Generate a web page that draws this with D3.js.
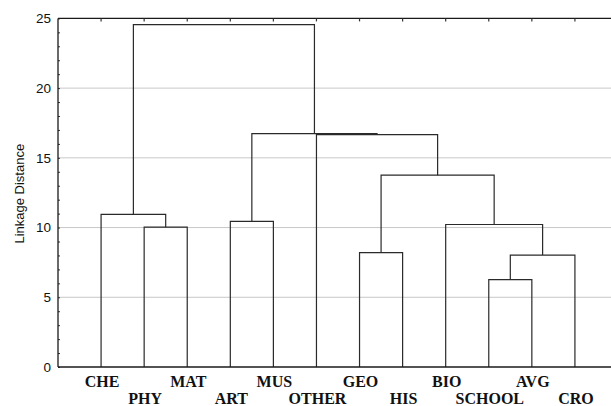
<!DOCTYPE html>
<html>
<head>
<meta charset="utf-8">
<script src="https://cdn.jsdelivr.net/npm/d3@7"></script>
<style>
  body { margin: 0; background: #fff; }
  svg { display: block; }
</style>
</head>
<body>
<div id="chart"></div>
<script>
// Leaf order along the x axis
const leaves = ["CHE", "PHY", "MAT", "ART", "MUS", "OTHER", "GEO", "HIS", "BIO", "SCHOOL", "AVG", "CRO"];

// Merge steps: [left member, right member, linkage distance]; clusters named c1, c2, ...
const merges = [
    ["PHY", "MAT", 10.03],
    ["CHE", "c1", 10.95],
    ["ART", "MUS", 10.45],
    ["GEO", "HIS", 8.2],
    ["SCHOOL", "AVG", 6.27],
    ["c5", "CRO", 8.03],
    ["BIO", "c6", 10.22],
    ["c4", "c7", 13.76],
    ["OTHER", "c8", 16.67],
    ["c3", "c9", 16.74],
    ["c2", "c10", 24.55]
];

const yTicks = [0, 5, 10, 15, 20, 25];

const width = 611, height = 406;
const margin = {top: 18.4, right: -7, bottom: 39, left: 58};

const svg = d3.select('#chart')
    .append('svg')
    .attr('width', width)
    .attr('height', height);

// X: leaf slots 1..n, with one empty slot at each end
const x = d3.scaleLinear()
    .domain([0, leaves.length + 1])
    .range([margin.left, width - margin.right]);

const y = d3.scaleLinear()
    .domain([0, 25])
    .range([height - margin.bottom, margin.top]);

// Grid lines
svg.append('g')
    .selectAll('line')
    .data(yTicks.filter(d => d > 0 && d < 25))
    .enter()
    .append('line')
    .attr('x1', margin.left)
    .attr('x2', width)
    .attr('y1', d => y(d))
    .attr('y2', d => y(d))
    .attr('stroke', '#c8c8c8')
    .attr('stroke-width', 1);

// Node positions
const pos = {};
leaves.forEach((name, i) => { pos[name] = {x: x(i + 1), h: 0}; });
merges.forEach((m, i) => {
    const a = pos[m[0]], b = pos[m[1]];
    pos['c' + (i + 1)] = {x: (a.x + b.x) / 2, h: m[2]};
});

// Dendrogram links
const link = svg.append('g')
    .attr('fill', 'none')
    .attr('stroke', '#2a2a2a')
    .attr('stroke-width', 1.2);

merges.forEach(m => {
    const a = pos[m[0]], b = pos[m[1]];
    link.append('path')
        .attr('d', `M${a.x},${y(a.h)}V${y(m[2])}H${b.x}V${y(b.h)}`);
});

// Left axis with minor inner ticks
svg.append('g')
    .attr('transform', `translate(${margin.left},0)`)
    .call(d3.axisLeft(y).tickValues(d3.range(0, 26)).tickSize(-2).tickFormat(''))
    .call(g => g.select('.domain').remove())
    .call(g => g.selectAll('line').attr('stroke', '#333'));

svg.append('g')
    .selectAll('text')
    .data(yTicks)
    .enter()
    .append('text')
    .attr('x', margin.left - 7)
    .attr('y', d => y(d))
    .attr('dy', '0.36em')
    .attr('text-anchor', 'end')
    .attr('font-family', 'Liberation Sans, Arial, sans-serif')
    .attr('font-size', '13.5px')
    .attr('fill', '#111')
    .text(d => d);

// Frame: left, top, bottom
const frame = svg.append('g')
    .attr('stroke', '#1a1a1a')
    .attr('stroke-width', 1.3);
frame.append('line')
    .attr('x1', margin.left).attr('x2', margin.left)
    .attr('y1', y(25)).attr('y2', y(0));
frame.append('line')
    .attr('x1', margin.left).attr('x2', width)
    .attr('y1', y(25)).attr('y2', y(25));
frame.append('line')
    .attr('x1', margin.left).attr('x2', width)
    .attr('y1', y(0)).attr('y2', y(0));

// Top ticks at leaf positions
svg.append('g')
    .selectAll('line')
    .data(leaves)
    .enter()
    .append('line')
    .attr('x1', (d, i) => x(i + 1))
    .attr('x2', (d, i) => x(i + 1))
    .attr('y1', y(25))
    .attr('y2', y(25) + 3)
    .attr('stroke', '#333')
    .attr('stroke-width', 1.2);

// Leaf labels, alternating rows
svg.append('g')
    .selectAll('text')
    .data(leaves)
    .enter()
    .append('text')
    .attr('x', (d, i) => x(i + 1) + 1)
    .attr('y', (d, i) => i % 2 === 0 ? y(0) + 19.5 : y(0) + 37)
    .attr('text-anchor', 'middle')
    .attr('font-family', 'Liberation Serif, Times New Roman, serif')
    .attr('font-weight', 'bold')
    .attr('font-size', '16px')
    .attr('fill', '#111')
    .text(d => d);

// Y axis title
svg.append('text')
    .attr('transform', `translate(24,${(y(0) + y(25)) / 2 + 1}) rotate(-90)`)
    .attr('text-anchor', 'middle')
    .attr('font-family', 'Liberation Sans, Arial, sans-serif')
    .attr('font-size', '13px')
    .attr('fill', '#111')
    .text('Linkage Distance');
</script>
</body>
</html>
